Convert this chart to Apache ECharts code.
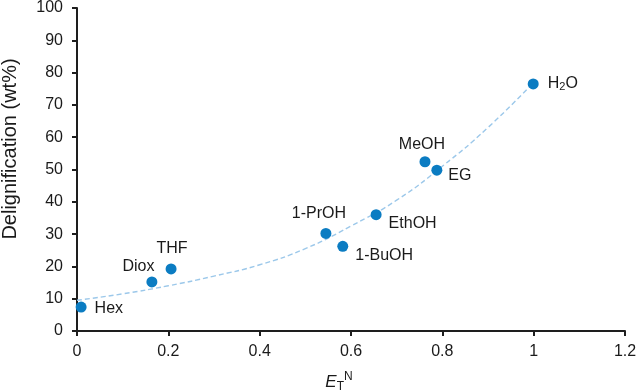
<!DOCTYPE html>
<html>
<head>
<meta charset="utf-8">
<script src="https://cdn.jsdelivr.net/npm/echarts@6/dist/echarts.min.js"></script>
<style>
  html, body { margin: 0; padding: 0; background: #fff; }
  #chart { width: 637px; height: 392px; }
</style>
</head>
<body>
<div id="chart"></div>
<script>
// solvents, E_T^N and delignification (wt%)
var solvents = ['Hex', 'Diox', 'THF', '1-PrOH', '1-BuOH', 'EthOH', 'MeOH', 'EG', 'H2O'];
var etn = [0.009, 0.164, 0.206, 0.545, 0.582, 0.655, 0.762, 0.788, 0.999];
var delig = [7.4, 15.2, 19.2, 30.2, 26.2, 36.0, 52.4, 49.8, 76.5];

// dashed trend curve
var trendX = [0, 0.1, 0.2, 0.3, 0.4, 0.5, 0.6, 0.7, 0.8, 0.9, 1.0];
var trendY = [9.5, 11.5, 14, 17, 20.5, 25.5, 32.5, 40.5, 51, 63, 77];

var font = 'Liberation Sans, Arial, sans-serif';
var axisCol = '#1e1e1e';
var textCol = '#1a1a1a';

// 每个标签的位置
var labelPos = {
    'Hex':    { position: 'right', distance: 8, offset: [0, 1] },
    'Diox':   { position: 'left', distance: 2, offset: [10, -15] },
    'THF':    { position: 'top', distance: 6, offset: [1, -1] },
    '1-PrOH': { position: 'top', distance: 6, offset: [-7, 0] },
    '1-BuOH': { position: 'right', distance: 7, offset: [0, 9] },
    'EthOH':  { position: 'right', distance: 7, offset: [0, 9] },
    'MeOH':   { position: 'top', distance: 4, offset: [-3, 0] },
    'EG':     { position: 'right', distance: 6, offset: [0, 5] },
    'H2O':    { position: 'right', distance: 9, offset: [0, 0] }
};

var points = [];
for (var i = 0; i < solvents.length; i++) {
    var lp = labelPos[solvents[i]];
    points.push({
        value: [etn[i], delig[i]],
        name: solvents[i],
        label: {
            show: true,
            position: lp.position,
            distance: lp.distance,
            offset: lp.offset,
            formatter: solvents[i] === 'H2O' ? '{a|H}{s|2}{a|O}' : solvents[i]
        }
    });
}

var trend = [];
for (var j = 0; j < trendX.length; j++) {
    trend.push([trendX[j], trendY[j]]);
}

var chart = echarts.init(document.getElementById('chart'));
chart.setOption({
    animation: false,
    textStyle: { fontFamily: font },
    grid: { left: 77, right: 12, top: 8, bottom: 61, outerBoundsMode: 'none', containLabel: false },
    xAxis: {
        type: 'value',
        min: 0, max: 1.2, interval: 0.2,
        name: '{e|E}{sub|T}{sup|N}',
        nameLocation: 'middle',
        nameGap: 40,
        nameTextStyle: {
            padding: [0, 24, 0, 0],
            rich: {
                e: { fontSize: 17, fontStyle: 'italic', color: textCol, fontFamily: font, lineHeight: 22 },
                sub: { fontSize: 12, color: textCol, fontFamily: font, lineHeight: 10, verticalAlign: 'bottom' },
                sup: { fontSize: 12, color: textCol, fontFamily: font, lineHeight: 10, verticalAlign: 'top' }
            }
        },
        splitLine: { show: false },
        axisLine: { show: true, lineStyle: { color: axisCol, width: 2 } },
        axisTick: { show: true, inside: false, length: 5, lineStyle: { color: axisCol, width: 2 } },
        axisLabel: {
            color: textCol, fontSize: 16, margin: 13,
            formatter: function (v) { return String(Math.round(v * 10) / 10); }
        }
    },
    yAxis: {
        type: 'value',
        min: 0, max: 100, interval: 10,
        name: 'Delignification (wt%)',
        nameLocation: 'middle',
        nameGap: 57,
        nameTextStyle: { color: textCol, fontSize: 20, fontFamily: font, padding: [0, 0, 0, 41] },
        splitLine: { show: false },
        axisLine: { show: true, lineStyle: { color: axisCol, width: 2 } },
        axisTick: { show: true, inside: false, length: 5, lineStyle: { color: axisCol, width: 2 } },
        axisLabel: { color: textCol, fontSize: 16, margin: 14 }
    },
    series: [
        {
            type: 'line',
            data: trend,
            smooth: true,
            showSymbol: false,
            silent: true,
            lineStyle: { color: '#9cc8ea', width: 1.4, type: [5, 3] },
            z: 1
        },
        {
            type: 'scatter',
            data: points,
            symbolSize: 11,
            itemStyle: { color: '#0b7cc2', opacity: 1 },
            label: {
                color: textCol,
                fontSize: 16,
                fontFamily: font,
                rich: {
                    a: { fontSize: 16, color: textCol, fontFamily: font, lineHeight: 18 },
                    s: { fontSize: 11, color: textCol, fontFamily: font, lineHeight: 10, verticalAlign: 'bottom' }
                }
            },
            z: 2
        }
    ]
});
</script>
</body>
</html>
